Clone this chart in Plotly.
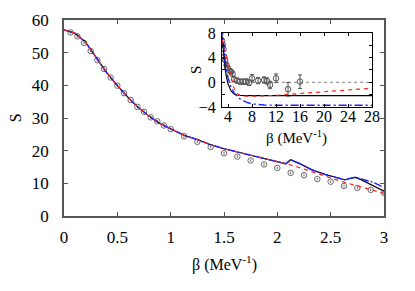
import plotly.graph_objects as go

# ---------------- main panel data ----------------
beta_data = [0.0625, 0.125, 0.1875, 0.25, 0.3125, 0.375, 0.4375, 0.5, 0.5625, 0.625,
             0.6875, 0.75, 0.8125, 0.875, 0.9375, 1.0, 1.125, 1.25, 1.375, 1.5,
             1.625, 1.75, 1.875, 2.0, 2.125, 2.25, 2.375, 2.5, 2.625, 2.75, 2.875, 3.0]
S_data = [56.2, 55.0, 53.0, 50.5, 47.7, 45.0, 42.4, 39.9, 37.6, 35.5,
          33.4, 31.9, 30.2, 29.0, 27.7, 26.6, 24.4, 22.7, 21.1, 19.2,
          18.2, 17.0, 15.8, 14.7, 13.2, 12.5, 11.3, 10.5, 9.2, 8.6, 8.0, 7.1]
S_err = [0.4] * len(S_data)

beta_red = [0.0, 0.1, 0.2, 0.3, 0.4, 0.5, 0.6, 0.7, 0.8, 0.9, 1.0, 1.125, 1.25, 1.375,
            1.5, 1.625, 1.75, 1.9, 2.08, 2.19, 2.4, 2.6, 2.86, 3.0]
S_red = [57.0, 56.0, 53.3, 48.4, 43.9, 39.9, 36.3, 33.1, 30.5, 28.3, 26.6, 24.7, 23.4, 21.8,
         20.6, 19.6, 18.8, 17.4, 16.0, 15.0, 12.8, 10.6, 8.2, 6.9]

beta_blk = [0.0, 0.1, 0.2, 0.3, 0.4, 0.5, 0.6, 0.7, 0.8, 0.9, 1.0, 1.125, 1.25, 1.375,
            1.5, 1.625, 1.75, 1.9, 2.08, 2.125, 2.2, 2.32, 2.45, 2.63, 2.68, 2.73, 2.78,
            2.89, 3.0]
S_blk = [57.0, 56.0, 53.3, 48.4, 43.9, 39.9, 36.3, 33.1, 30.5, 28.3, 26.6, 24.7, 23.4, 21.8,
         20.6, 19.6, 18.8, 17.4, 16.0, 17.2, 16.2, 14.2, 12.7, 11.1, 11.5, 11.8, 11.2,
         9.4, 7.6]

beta_blu = [0.0, 0.1, 0.2, 0.3, 0.4, 0.5, 0.6, 0.7, 0.8, 0.9, 1.0, 1.125, 1.25, 1.375,
            1.5, 1.625, 1.75, 1.9, 2.08, 2.125, 2.2, 2.32, 2.45, 2.63, 2.68, 2.73, 2.78,
            2.9, 2.98]
S_blu = [57.0, 56.0, 53.3, 48.4, 43.9, 39.9, 36.3, 33.1, 30.5, 28.3, 26.6, 24.7, 23.4, 21.8,
         20.6, 19.6, 18.8, 17.4, 16.0, 17.2, 16.2, 14.2, 12.7, 11.1, 11.6, 11.9, 11.4,
         10.3, 9.0]

# ---------------- inset data ----------------
ib_data = [3.0, 3.125, 3.25, 3.375, 3.5, 3.75, 4.0, 4.25, 4.5, 4.75, 5.0, 5.5, 6.0,
           6.5, 7.0, 7.5, 8.0, 9.0, 10.0, 10.5, 11.0, 12.0, 14.0, 16.0]
iS_data = [6.75, 6.05, 5.36, 4.16, 3.62, 2.81, 2.28, 1.89, 1.73, 1.36, 0.50, 0.27, 0.11,
           0.11, 0.11, -0.05, 0.66, 0.27, 0.38, 0.22, -0.43, 0.66, -1.12, 0.11]
iS_err = [0.3, 0.3, 0.3, 0.3, 0.3, 0.3, 0.3, 0.3, 0.35, 0.35, 0.35, 0.4, 0.4,
          0.4, 0.45, 0.45, 0.6, 0.5, 0.5, 0.5, 0.6, 0.7, 1.1, 1.1]

ib_blk = [3.0, 3.25, 3.5, 3.75, 4.0, 4.5, 5.0, 5.5, 6.0, 8.0, 28.0]
iS_blk = [7.6, 4.5, 2.2, 0.8, -0.3, -1.4, -1.9, -2.05, -2.12, -2.15, -2.15]

ib_red = [3.0, 3.25, 3.5, 3.75, 4.0, 4.25, 4.5, 4.75, 5.0, 5.5, 6.0, 7.0, 8.0, 10.0,
          12.0, 14.0, 16.0, 18.0, 20.0, 22.0, 24.0, 26.0, 28.0]
iS_red = [6.9, 5.7, 4.6, 3.6, 2.6, 1.8, 0.8, -0.3, -1.0, -1.8, -2.15, -2.25, -2.25, -2.2,
          -2.1, -1.95, -1.8, -1.62, -1.5, -1.36, -1.25, -1.1, -1.0]

ib_blu = [3.0, 3.25, 3.5, 3.75, 4.0, 4.5, 5.0, 5.5, 6.0, 7.0, 8.0, 10.0, 12.0, 28.0]
iS_blu = [9.0, 5.5, 3.3, 1.8, 0.7, -0.8, -1.7, -2.3, -2.7, -3.2, -3.5, -3.68, -3.72, -3.72]

ib_zero = [3.0, 28.0]
iS_zero = [0.0, 0.0]

FONT = "Liberation Serif, Times New Roman, DejaVu Serif, serif"
fig = go.Figure()

# main panel
fig.add_trace(go.Scatter(x=beta_data, y=S_data, mode="markers",
                         marker=dict(symbol="circle-open", size=5.5, color="#6a6a6a", line=dict(width=1)),
                         error_y=dict(type="data", array=S_err, color="#6a6a6a", thickness=1, width=0),
                         xaxis="x", yaxis="y", showlegend=False))
fig.add_trace(go.Scatter(x=beta_blk, y=S_blk, mode="lines", line=dict(color="black", width=1.2),
                         xaxis="x", yaxis="y", showlegend=False))
fig.add_trace(go.Scatter(x=beta_blu, y=S_blu, mode="lines",
                         line=dict(color="#2020ff", width=1.4, dash="8px,2px,2px,2px"),
                         xaxis="x", yaxis="y", showlegend=False))
fig.add_trace(go.Scatter(x=beta_red, y=S_red, mode="lines",
                         line=dict(color="#ff2020", width=1.2, dash="4px,4px"),
                         xaxis="x", yaxis="y", showlegend=False))

# inset
fig.add_trace(go.Scatter(x=ib_zero, y=iS_zero, mode="lines",
                         line=dict(color="#999999", width=1.2, dash="dot"),
                         xaxis="x2", yaxis="y2", showlegend=False))
fig.add_trace(go.Scatter(x=ib_data, y=iS_data, mode="markers",
                         marker=dict(symbol="circle-open", size=5.5, color="#555555", line=dict(width=1)),
                         error_y=dict(type="data", array=iS_err, color="#555555", thickness=1, width=2),
                         xaxis="x2", yaxis="y2", showlegend=False))
fig.add_trace(go.Scatter(x=ib_blk, y=iS_blk, mode="lines", line=dict(color="black", width=1.2),
                         xaxis="x2", yaxis="y2", showlegend=False))
fig.add_trace(go.Scatter(x=ib_red, y=iS_red, mode="lines",
                         line=dict(color="#ff2020", width=1.2, dash="4px,4px"),
                         xaxis="x2", yaxis="y2", showlegend=False))
fig.add_trace(go.Scatter(x=ib_blu, y=iS_blu, mode="lines",
                         line=dict(color="#2020ff", width=1.4, dash="8px,3px,2px,3px"),
                         xaxis="x2", yaxis="y2", showlegend=False))

axis_common = dict(showgrid=False, zeroline=False, ticks="inside", mirror="ticks",
                   showline=True, automargin=False)

main_tick_font = dict(family=FONT, size=17, color="black")
inset_tick_font = dict(family=FONT, size=16, color="black")
title_font = dict(family=FONT, size=16, color="black")
inset_title_font = dict(family=FONT, size=15, color="black")

# the page body adds an 8px offset, so the figure is 8px smaller than the window
fig.update_layout(
    width=407, height=283,
    margin=dict(l=56, r=31, t=12, b=75),
    paper_bgcolor="white", plot_bgcolor="white",
    font=dict(family=FONT, size=15, color="black"),
    xaxis=dict(**axis_common, range=[0, 3], tickvals=[0, 0.5, 1, 1.5, 2, 2.5, 3],
               ticktext=["0", "0.5", "1", "1.5", "2", "2.5", "3"], tickfont=main_tick_font,
               linecolor="#555555", linewidth=1.5, tickcolor="#555555", ticklen=4,
               ticklabelstandoff=5),
    yaxis=dict(**axis_common, range=[0, 60], tickvals=[0, 10, 20, 30, 40, 50, 60],
               tickfont=main_tick_font,
               linecolor="#555555", linewidth=1.5, tickcolor="#555555", ticklen=4,
               ticklabelstandoff=10),
    xaxis2=dict(**axis_common, domain=[0.494, 0.9625], anchor="y2", range=[3, 28],
                tickvals=[4, 8, 12, 16, 20, 24, 28], tickfont=inset_tick_font,
                linecolor="black", linewidth=1.2, tickcolor="black", ticklen=3,
                ticklabelstandoff=-5),
    yaxis2=dict(**axis_common, domain=[0.556, 0.934], anchor="x2", range=[-4, 8],
                tickmode="linear", tick0=0, dtick=4,
                minor=dict(tickmode="linear", tick0=0, dtick=2, ticks="inside",
                           ticklen=3, tickcolor="black", showgrid=False),
                tickfont=inset_tick_font,
                linecolor="black", linewidth=1.2, tickcolor="black", ticklen=3,
                ticklabelstandoff=2),
    annotations=[
        dict(text="β (MeV<sup>-1</sup>)", xref="paper", yref="paper", x=0.5, y=-0.24,
             showarrow=False, font=title_font, xanchor="center", yanchor="middle"),
        dict(text="S", xref="paper", yref="paper", x=-0.152, y=0.5, textangle=-90,
             showarrow=False, font=title_font, xanchor="center", yanchor="middle"),
        dict(text="β (MeV<sup>-1</sup>)", xref="paper", yref="paper", x=0.728, y=0.403,
             showarrow=False, font=inset_title_font, xanchor="center", yanchor="middle"),
        dict(text="S", xref="paper", yref="paper", x=0.4125, y=0.745, textangle=-90,
             showarrow=False, font=inset_title_font, xanchor="center", yanchor="middle"),
    ],
)

fig.write_html("out.html")
